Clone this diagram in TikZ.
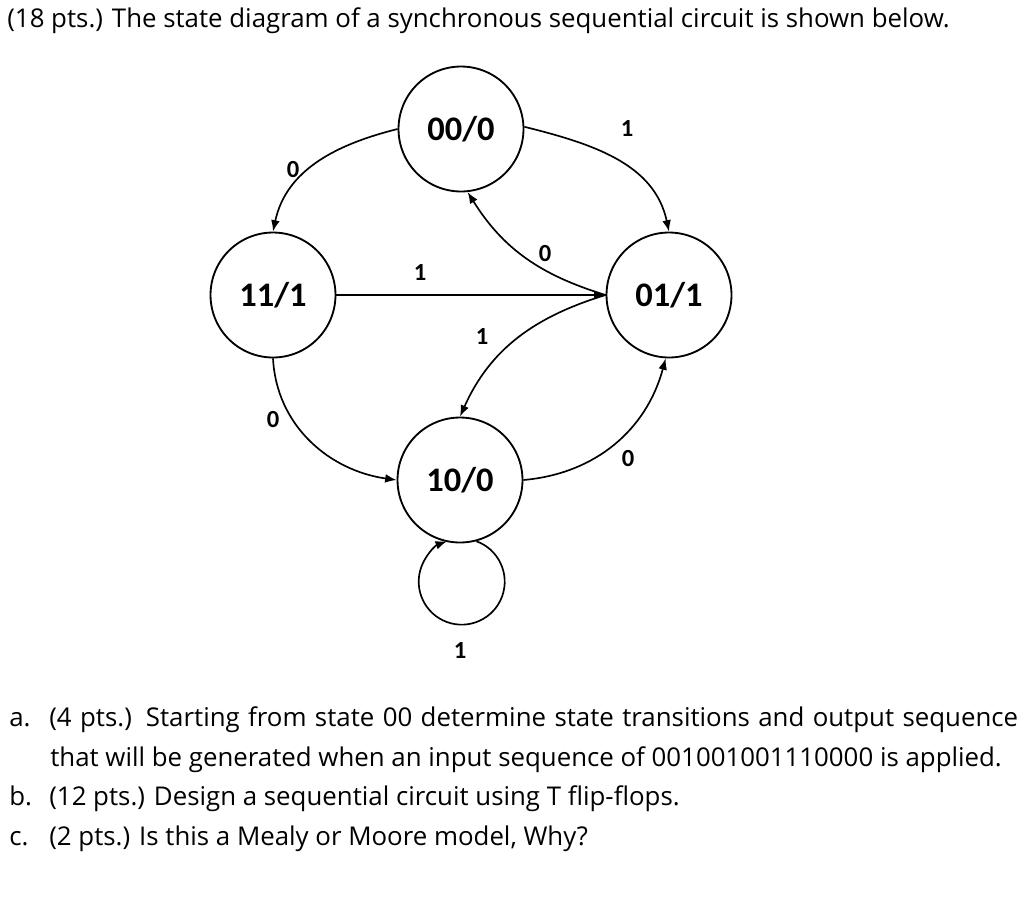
\documentclass[tikz,border=0pt]{standalone}
\usepackage{fontspec}
\setmainfont{Open Sans}
\newfontfamily\calibri{Carlito}
\usepackage{tikz}
\usetikzlibrary{arrows.meta}
\pgfdeclarelayer{edgelayer}
\pgfdeclarelayer{nodelayer}
\pgfsetlayers{edgelayer,nodelayer,main}
\tikzstyle{none}=[inner sep=0pt]
\tikzstyle{state}=[circle, draw=black, line width=1.05pt, fill=white, minimum size=2.5cm, inner sep=0pt, font=\calibri\bfseries\fontsize{19.6pt}{20pt}\selectfont]
\tikzstyle{input}=[inner sep=0pt, font=\calibri\bfseries\fontsize{14pt}{14pt}\selectfont]
\tikzstyle{trans}=[line width=0.95pt, -{Latex[length=6.5pt,width=5pt]}]
\tikzstyle{question}=[inner sep=0pt, anchor=base west, font=\fontsize{14.7pt}{18pt}\selectfont]

\begin{document}
\begin{tikzpicture}[x=0.02cm, y=0.02cm]
	\useasboundingbox (0, 0) rectangle (1024, -920);
	\begin{pgfonlayer}{nodelayer}
		\node [style=state] (0) at (461, -129) {00/0};
		\node [style=state] (1) at (273, -295) {11/1};
		\node [style=state] (2) at (669, -295) {01/1};
		\node [style=state] (3) at (460, -480) {10/0};
		\node [style=input] (4) at (293, -170) {0};
		\node [style=input] (5) at (627, -129) {1};
		\node [style=input] (6) at (420, -273) {1};
		\node [style=input] (7) at (545, -254) {0};
		\node [style=input] (8) at (482, -337) {1};
		\node [style=input] (9) at (273, -420) {0};
		\node [style=input] (10) at (628, -459) {0};
		\node [style=input] (11) at (460, -650) {1};
		% question text
		\node [style=question] (12) at (7, -27) {(18 pts.) The state diagram of a synchronous sequential circuit is shown below.};
		\node [style=question] (13) at (9, -726) {a.};
		\node [style=question] (14) at (49, -726) {\hbox to 19.38cm{(4 pts.) Starting from state 00 determine state transitions and output sequence}};
		\node [style=question] (15) at (50, -766) {that will be generated when an input sequence of 001001001110000 is applied.};
		\node [style=question] (16) at (9, -805) {b.};
		\node [style=question] (17) at (49, -805) {(12 pts.) Design a sequential circuit using T flip-flops.};
		\node [style=question] (18) at (9, -845) {c.};
		\node [style=question] (19) at (49, -845) {(2 pts.) Is this a Mealy or Moore model, Why?};
	\end{pgfonlayer}
	\begin{pgfonlayer}{edgelayer}
		\draw [style=trans] (0.180) to[out=194, in=78] (1.90);
		\draw [style=trans] (0.2) to[out=-14, in=102] (2.90);
		\draw [style=trans] (1.0) to (2.180);
		\draw [style=trans] (2.180) to[out=163, in=-58] (0.-84);
		\draw [style=trans] (2.180) to[out=197, in=66] (3.90);
		\draw [style=trans] (1.-90) to[out=-87, in=172] (3.180);
		\draw [style=trans] (3.0) to[out=5, in=-105] (2.-93);
		\draw [style=trans] (3.-75) arc[start angle=70, end angle=-250, radius=0.86cm];
	\end{pgfonlayer}
\end{tikzpicture}
\end{document}
